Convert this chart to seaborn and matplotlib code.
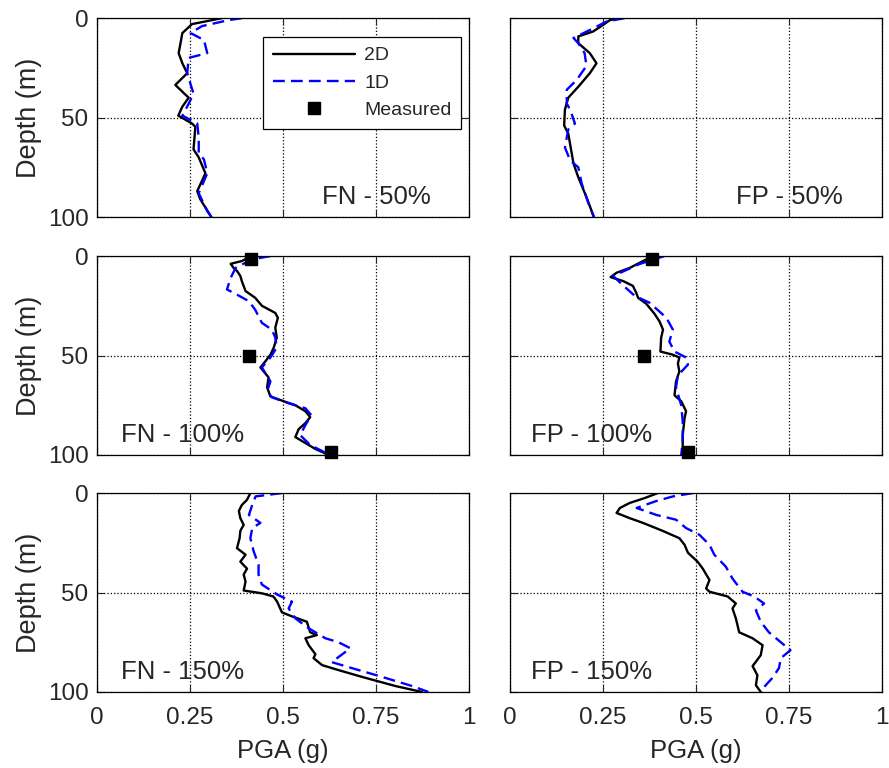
import matplotlib
matplotlib.use('Agg')
import matplotlib.pyplot as plt
import seaborn as sns

# PGA profiles (g) vs depth (m)
fn50_depth_2d = [0, 3, 7.5, 12.6, 17.6, 22.7, 27.7, 33.6, 37, 40, 44.5, 49, 53, 54.6, 66, 70, 78, 87, 91, 100]
fn50_pga_2d = [0.337, 0.256, 0.23, 0.225, 0.22, 0.23, 0.243, 0.211, 0.23, 0.247, 0.23, 0.219, 0.256, 0.265,
               0.26, 0.274, 0.292, 0.27, 0.278, 0.308]
fn50_depth_1d = [0, 1, 4, 7.5, 11, 17.6, 20, 27.7, 38, 43, 49, 53, 60, 68, 71, 78, 88, 97, 100]
fn50_pga_1d = [0.39, 0.355, 0.283, 0.252, 0.288, 0.297, 0.247, 0.243, 0.26, 0.247, 0.23, 0.27, 0.274, 0.274,
               0.288, 0.297, 0.274, 0.297, 0.308]

fp50_depth_2d = [0, 1, 3.4, 6.7, 9.2, 12.6, 17.6, 22.7, 27.7, 34.5, 40, 46, 54, 58, 73, 80, 90, 100]
fp50_pga_2d = [0.295, 0.268, 0.25, 0.223, 0.183, 0.183, 0.214, 0.232, 0.214, 0.183, 0.156, 0.147, 0.145,
               0.156, 0.17, 0.183, 0.205, 0.225]
fp50_depth_1d = [0, 1.7, 6, 10, 12.6, 17.6, 24, 31, 36, 43, 46, 53, 56, 65, 71.5, 75, 83, 93, 100]
fp50_pga_1d = [0.308, 0.259, 0.214, 0.17, 0.183, 0.2, 0.205, 0.179, 0.152, 0.152, 0.161, 0.174, 0.156,
               0.147, 0.161, 0.183, 0.192, 0.21, 0.225]

fn100_depth_2d = [0, 2.5, 3.9, 6, 7.5, 10, 12.6, 17.6, 21, 25, 28.6, 31, 36, 41, 46, 49.6, 53, 56, 61, 66,
                  70.6, 73, 75, 78, 81, 84, 87, 91, 93, 97, 100]
fn100_pga_2d = [0.417, 0.39, 0.36, 0.368, 0.377, 0.386, 0.39, 0.4, 0.426, 0.444, 0.48, 0.487, 0.48, 0.484,
                0.476, 0.467, 0.453, 0.44, 0.462, 0.458, 0.467, 0.503, 0.534, 0.561, 0.574, 0.561, 0.543,
                0.534, 0.552, 0.588, 0.624]
fn100_depth_1d = [0, 1.7, 6, 11, 16.8, 19, 22.7, 27, 33.6, 37, 41, 46, 51, 56, 63, 68, 71, 74, 76.5, 80,
                  85, 90, 95, 98, 100]
fn100_pga_1d = [0.467, 0.417, 0.373, 0.36, 0.35, 0.373, 0.409, 0.426, 0.444, 0.471, 0.48, 0.484, 0.467,
                0.444, 0.467, 0.458, 0.471, 0.516, 0.561, 0.577, 0.561, 0.547, 0.574, 0.606, 0.624]
fn100_depth_meas = [1.5, 50, 98.5]
fn100_pga_meas = [0.416, 0.409, 0.631]

fp100_depth_2d = [0, 3.4, 6, 8.4, 10.6, 12.6, 15, 18.5, 21, 24, 29, 33, 37, 41, 48, 49.6, 51, 54, 58, 63,
                  70, 73, 78, 81.5, 90, 100]
fp100_pga_2d = [0.384, 0.348, 0.321, 0.286, 0.27, 0.304, 0.33, 0.339, 0.344, 0.366, 0.388, 0.402, 0.411,
                0.406, 0.404, 0.4375, 0.455, 0.451, 0.455, 0.446, 0.442, 0.46, 0.473, 0.469, 0.464, 0.464]
fp100_depth_1d = [0, 4, 10, 14, 20, 23.5, 31, 37, 43, 48, 51, 54.6, 60, 66, 75, 83, 93, 100]
fp100_pga_1d = [0.415, 0.348, 0.277, 0.299, 0.335, 0.375, 0.42, 0.4375, 0.428, 0.442, 0.473, 0.478,
                0.451, 0.446, 0.46, 0.464, 0.464, 0.46]
fp100_depth_meas = [1.5, 50, 98.5]
fp100_pga_meas = [0.381, 0.359, 0.478]

fn150_depth_2d = [0, 3.4, 6, 9, 12.6, 16, 19, 22.7, 27.7, 31, 34.5, 38, 41, 44.5, 49, 50.4, 52, 54.6, 60,
                  62, 64.7, 70, 71.4, 73, 76.5, 81, 83, 86.5, 89, 92.4, 97, 100]
fn150_pga_2d = [0.413, 0.404, 0.39, 0.382, 0.386, 0.395, 0.386, 0.384, 0.377, 0.4, 0.386, 0.404, 0.395,
                0.4, 0.395, 0.444, 0.475, 0.485, 0.498, 0.525, 0.565, 0.574, 0.592, 0.561, 0.57, 0.588,
                0.583, 0.606, 0.65, 0.713, 0.803, 0.875]
fn150_depth_1d = [0, 1.7, 6, 11, 15, 17.6, 22.7, 29.4, 36, 41, 46, 51, 54.6, 58, 63, 68, 73, 75, 78, 85,
                  88, 92.4, 97, 100]
fn150_pga_1d = [0.498, 0.427, 0.418, 0.409, 0.44, 0.418, 0.413, 0.422, 0.435, 0.435, 0.444, 0.485, 0.525,
                0.516, 0.534, 0.57, 0.615, 0.65, 0.682, 0.632, 0.686, 0.767, 0.848, 0.892]

fp150_depth_2d = [0, 2.5, 5, 7.5, 10, 12.6, 15, 19, 22.7, 26, 30, 34.5, 38, 43.7, 48, 49.6, 52, 55.5, 58,
                  63, 70, 73, 76.5, 81.5, 87, 91.6, 96.6, 100]
fp150_pga_2d = [0.397, 0.362, 0.321, 0.295, 0.286, 0.321, 0.357, 0.41, 0.455, 0.469, 0.478, 0.504, 0.518,
                0.536, 0.527, 0.536, 0.585, 0.607, 0.598, 0.607, 0.616, 0.652, 0.679, 0.674, 0.652, 0.665,
                0.661, 0.674]
fp150_depth_1d = [0, 1.7, 4, 7.5, 11, 13.4, 17.6, 21, 26, 31, 37, 43, 49.6, 52, 55.5, 59, 64.7, 70, 75,
                  79, 83, 88, 93, 97.5, 100]
fp150_pga_1d = [0.491, 0.4375, 0.393, 0.34, 0.393, 0.446, 0.473, 0.509, 0.536, 0.549, 0.58, 0.598, 0.625,
                0.656, 0.683, 0.661, 0.674, 0.696, 0.728, 0.754, 0.728, 0.723, 0.705, 0.683, 0.679]

panel_labels = ['FN - 50%', 'FP - 50%', 'FN - 100%', 'FP - 100%', 'FN - 150%', 'FP - 150%']
x_ticks = [0, 0.25, 0.5, 0.75, 1]
x_ticklabels = ['0', '0.25', '0.5', '0.75', '1']
y_ticks = [0, 50, 100]

sns.set_style('ticks')
plt.rcParams['font.family'] = ['Liberation Sans', 'DejaVu Sans']

panels = [
    (fn50_depth_2d, fn50_pga_2d, fn50_depth_1d, fn50_pga_1d, None, None),
    (fp50_depth_2d, fp50_pga_2d, fp50_depth_1d, fp50_pga_1d, None, None),
    (fn100_depth_2d, fn100_pga_2d, fn100_depth_1d, fn100_pga_1d, fn100_depth_meas, fn100_pga_meas),
    (fp100_depth_2d, fp100_pga_2d, fp100_depth_1d, fp100_pga_1d, fp100_depth_meas, fp100_pga_meas),
    (fn150_depth_2d, fn150_pga_2d, fn150_depth_1d, fn150_pga_1d, None, None),
    (fp150_depth_2d, fp150_pga_2d, fp150_depth_1d, fp150_pga_1d, None, None),
]

fig = plt.figure(figsize=(8.89, 7.68), dpi=100)
lefts = [0.109, 0.574]
bottoms = [0.7174, 0.4076, 0.099]
w, h = 0.418, 0.259
label_pos = [(0.753, 0.10), (0.75, 0.10), (0.23, 0.10), (0.22, 0.10), (0.23, 0.10), (0.22, 0.10)]
fs = 17.5
dash = [5, 2.6]

for i, (d2, p2, d1, p1, dm, pm) in enumerate(panels):
    row, col = divmod(i, 2)
    ax = fig.add_axes([lefts[col], bottoms[row], w, h])
    sns.lineplot(x=p2, y=d2, sort=False, estimator=None, color='black', linewidth=1.7, ax=ax, label='2D')
    sns.lineplot(x=p1, y=d1, sort=False, estimator=None, color='#0000ff', linewidth=1.7, ax=ax, label='1D')
    ax.lines[-1].set_dashes(dash)
    if dm is not None:
        ax.plot(pm, dm, 's', color='black', markersize=8.5, clip_on=False, zorder=5)
    ax.set_xlim(0, 1)
    ax.set_ylim(100, 0)
    ax.set_xticks(x_ticks)
    ax.set_yticks(y_ticks)
    ax.grid(True, linestyle=':', color='black', linewidth=0.9)
    ax.tick_params(direction='in', top=True, right=True, length=5, width=0.8, labelsize=fs, pad=6)
    for s in ax.spines.values():
        s.set_color('black')
        s.set_linewidth(0.9)
    if col == 0:
        ax.set_ylabel('Depth (m)', fontsize=19.5, labelpad=4)
    else:
        ax.set_yticklabels([])
        ax.set_ylabel('')
    if row == 2:
        ax.set_xticklabels(x_ticklabels)
        ax.set_xlabel('PGA (g)', fontsize=18.5, labelpad=7)
        ax.tick_params(axis='x', pad=11)
    else:
        ax.set_xticklabels([])
        ax.set_xlabel('')
    ax.text(label_pos[i][0], label_pos[i][1], panel_labels[i], transform=ax.transAxes,
            ha='center', va='center', fontsize=18.5)
    if i == 0:
        meas_handle = plt.Line2D([], [], linestyle='none', marker='s', color='black', markersize=8.5)
        handles, labels = ax.get_legend_handles_labels()
        leg = ax.legend(handles + [meas_handle], labels + ['Measured'], loc='upper right',
                        bbox_to_anchor=(0.981, 0.905), fontsize=14, handlelength=4.2,
                        fancybox=False, framealpha=1, edgecolor='black', borderpad=0.5,
                        labelspacing=0.5, handletextpad=0.5, borderaxespad=0)
        leg.get_frame().set_linewidth(0.9)
        leg.get_lines()[1].set_dashes(dash)
    else:
        leg = ax.get_legend()
        if leg is not None:
            leg.remove()

fig.savefig('out.png', dpi=100)
